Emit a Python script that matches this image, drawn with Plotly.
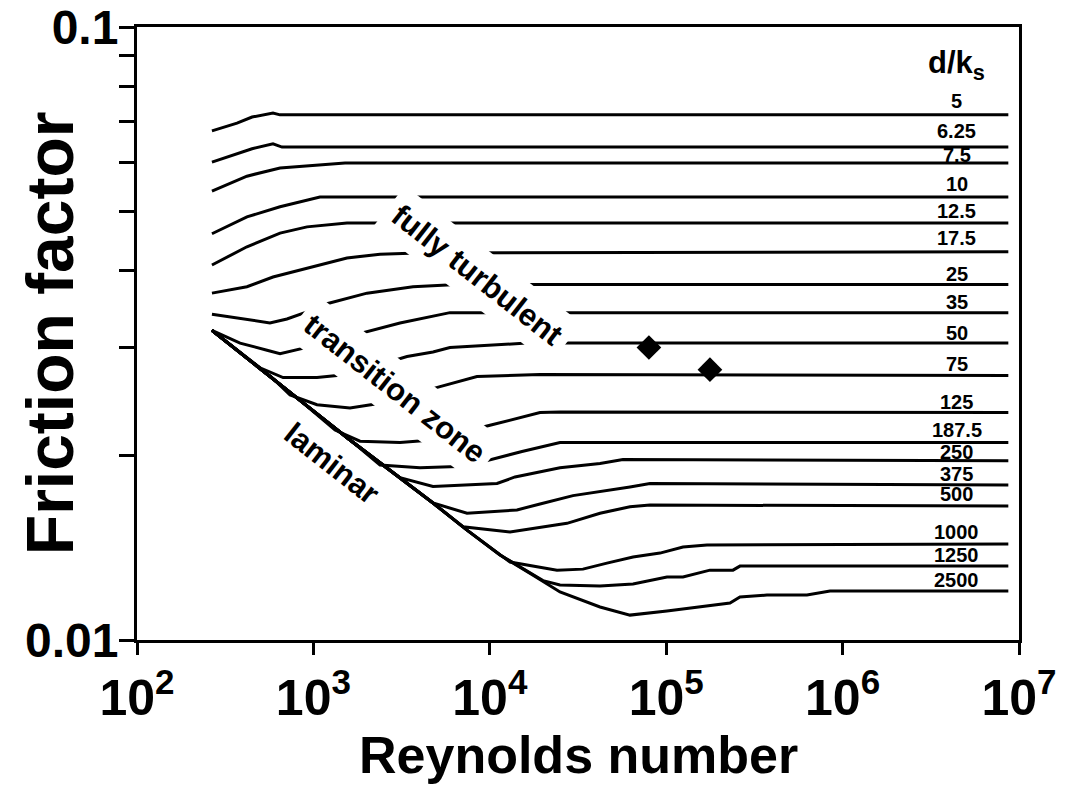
import numpy as np
import plotly.graph_objects as go

# ---------------- data ----------------
re_5 = [266, 369, 449, 590, 647, 8.7e6]
f_5 = [0.0677, 0.0697, 0.0713, 0.0724, 0.0719, 0.0719]

re_6_25 = [266, 369, 449, 590, 664, 8.7e6]
f_6_25 = [0.0602, 0.0621, 0.0633, 0.0645, 0.0637, 0.0637]

re_7_5 = [266, 420, 647, 1089, 1511, 8.7e6]
f_7_5 = [0.0540, 0.0571, 0.0589, 0.0596, 0.0600, 0.0600]

re_10 = [266, 420, 647, 1089, 8.7e6]
f_10 = [0.0460, 0.0490, 0.0509, 0.0528, 0.0528]

re_12_5 = [266, 420, 647, 920, 1550, 8.7e6]
f_12_5 = [0.0409, 0.0438, 0.0461, 0.0472, 0.0479, 0.0479]

re_17_5 = [266, 420, 590, 995, 1550, 2386, 3900, 8.7e6]
f_17_5 = [0.0368, 0.0377, 0.0391, 0.0406, 0.0420, 0.0426, 0.0428, 0.0430]

re_25 = [266, 384, 567, 708, 920, 1164, 2013, 3670, 6515, 8.7e6]
f_25 = [0.0340, 0.0335, 0.0329, 0.0334, 0.0343, 0.0353, 0.0368, 0.0377, 0.0380, 0.0380]

re_35 = [266, 384, 546, 647, 957, 2094, 3097, 5943, 8.7e6]
f_35 = [0.0320, 0.0305, 0.0297, 0.0293, 0.0301, 0.0319, 0.0329, 0.0342, 0.0342]

re_50 = [266, 384, 498, 673, 1048, 1550, 3394, 4764, 5943, 16250, 8.7e6]
f_50 = [0.0320, 0.0295, 0.0278, 0.0268, 0.0268, 0.0271, 0.0290, 0.0295, 0.0300, 0.0305, 0.0305]

re_75 = [266, 437, 583, 737, 1048, 1612, 2449, 5220, 8458, 19260, 8.7e6]
f_75 = [0.0320, 0.0286, 0.0268, 0.0251, 0.0242, 0.0239, 0.02435, 0.0259, 0.0269, 0.0271, 0.0270]

re_125 = [266, 437, 840, 1326, 1837, 3097, 4700, 10020, 19260, 25000, 8.7e6]
f_125 = [0.0320, 0.0286, 0.0246, 0.0220, 0.0211, 0.0210, 0.0212, 0.0224, 0.0235, 0.02355, 0.0235]

re_187_5 = [266, 437, 840, 1612, 2386, 4021, 7228, 15220, 25000, 8.7e6]
f_187_5 = [0.0320, 0.0286, 0.0246, 0.0212, 0.0193, 0.0191, 0.0192, 0.0203, 0.0210, 0.0210]

re_250 = [266, 437, 840, 1612, 3097, 4764, 10990, 13900, 25000, 42150, 56880, 8.7e6]
f_250 = [0.0320, 0.0286, 0.0246, 0.0212, 0.0184, 0.0178, 0.0180, 0.01845, 0.0191, 0.0194, 0.0197, 0.0196]

re_375 = [266, 437, 840, 1612, 3097, 4764, 7427, 14260, 19260, 29620, 62340, 80910, 8.7e6]
f_375 = [0.0320, 0.0286, 0.0246, 0.0212, 0.0184, 0.01673, 0.0161, 0.0163, 0.01667, 0.0172, 0.01777, 0.0180, 0.0179]

re_500 = [266, 437, 840, 1612, 3097, 4764, 7047, 13020, 27390, 42150, 62340, 80910, 8.7e6]
f_500 = [0.0320, 0.0286, 0.0246, 0.0212, 0.0184, 0.01673, 0.0153, 0.0150, 0.0155, 0.0161, 0.0165, 0.0166, 0.01654]

re_1000 = [266, 437, 840, 1612, 3097, 4764, 7427, 13020, 24040, 33740, 46150, 64850, 92230, 124500, 170200, 8.7e6]
f_1000 = [0.0320, 0.0286, 0.0246, 0.0212, 0.0184, 0.01673, 0.01511, 0.0134, 0.0130, 0.01305, 0.01335, 0.01366, 0.01386, 0.01418, 0.01429, 0.01434]

re_1250 = [266, 437, 840, 1612, 3097, 4764, 7427, 11430, 20030, 25000, 42150, 64850, 101000, 124500, 177000, 239100, 261900, 8.7e6]
f_1250 = [0.0320, 0.0286, 0.0246, 0.0212, 0.0184, 0.01673, 0.01511, 0.01376, 0.0125, 0.0123, 0.01225, 0.01234, 0.01267, 0.01267, 0.0130, 0.0130, 0.0132, 0.0132]

re_2500 = [266, 437, 840, 1612, 3097, 4764, 7427, 11430, 17580, 25000, 42150, 62340, 101000, 155300, 230000, 261900, 372400, 628000, 848600, 8.7e6]
f_2500 = [0.0320, 0.0286, 0.0246, 0.0212, 0.0184, 0.01673, 0.01511, 0.01376, 0.01276, 0.01198, 0.01132, 0.01098, 0.01115, 0.01132, 0.01149, 0.01175, 0.01184, 0.01184, 0.01202, 0.01202]

curve_labels = ["5", "6.25", "7.5", "10", "12.5", "17.5", "25", "35", "50", "75",
                "125", "187.5", "250", "375", "500", "1000", "1250", "2500"]
curve_re = [re_5, re_6_25, re_7_5, re_10, re_12_5, re_17_5, re_25, re_35, re_50, re_75,
            re_125, re_187_5, re_250, re_375, re_500, re_1000, re_1250, re_2500]
curve_f = [f_5, f_6_25, f_7_5, f_10, f_12_5, f_17_5, f_25, f_35, f_50, f_75,
           f_125, f_187_5, f_250, f_375, f_500, f_1000, f_1250, f_2500]

# label positions of d/ks values (right side)
label_re = 4.45e6
label_f = [0.0757, 0.0677, 0.0618, 0.05545, 0.0501, 0.04527, 0.03955, 0.03559, 0.03168,
           0.02820, 0.02445, 0.02202, 0.02026, 0.01866, 0.01730, 0.01501, 0.01376, 0.01253]
header_f = 0.0867

# measured points (diamonds)
pts_re = [79800, 177000]
pts_f = [0.0300, 0.0276]

# region labels
region_text = ["fully turbulent", "transition zone", "laminar"]
region_re = [8570, 2901, 1275]
region_f = [0.03938, 0.02576, 0.01944]

x_tickvals = [1e2, 1e3, 1e4, 1e5, 1e6, 1e7]
x_ticktext = ["10<sup>2</sup>", "10<sup>3</sup>", "10<sup>4</sup>",
              "10<sup>5</sup>", "10<sup>6</sup>", "10<sup>7</sup>"]
y_tickvals = [0.01, 0.1]
y_ticktext = ["0.01", "0.1"]
y_minor_vals = [0.02, 0.03, 0.04, 0.05, 0.06, 0.07, 0.08, 0.09]

FONT = "Liberation Sans, Arial, Helvetica, sans-serif"

fig = go.Figure()
for lab, xs, ys in zip(curve_labels, curve_re, curve_f):
    fig.add_trace(go.Scatter(x=xs, y=ys, mode="lines", name=lab,
                             line=dict(color="black", width=3), showlegend=False,
                             hoverinfo="skip"))

fig.add_trace(go.Scatter(x=pts_re, y=pts_f, mode="markers", showlegend=False,
                         marker=dict(symbol="diamond", size=19, color="black")))

ann = []
for t, xr, yf in zip(region_text, region_re, region_f):
    ann.append(dict(x=np.log10(xr), y=np.log10(yf), xref="x", yref="y", text=t,
                    showarrow=False, textangle=38, bgcolor="white", borderpad=8,
                    font=dict(family=FONT, size=31, color="black", weight="bold")))
for t, yf in zip(curve_labels, label_f):
    ann.append(dict(x=np.log10(label_re), y=np.log10(yf), xref="x", yref="y", text=t,
                    showarrow=False,
                    font=dict(family=FONT, size=20, color="black", weight="bold")))
ann.append(dict(x=np.log10(label_re), y=np.log10(header_f), xref="x", yref="y",
                text="d/k<sub>s</sub>", showarrow=False,
                font=dict(family=FONT, size=31, color="black", weight="bold")))
ann.append(dict(x=0.5, y=-0.188, xref="paper", yref="paper", text="Reynolds number",
                showarrow=False, yanchor="middle",
                font=dict(family=FONT, size=52, color="black", weight="bold")))
ann.append(dict(x=-0.099, y=0.5, xref="paper", yref="paper", text="Friction factor",
                showarrow=False, textangle=-90, xanchor="center", yanchor="middle",
                font=dict(family=FONT, size=66, color="black", weight="bold")))

fig.update_layout(
    width=1079, height=785,
    margin=dict(l=137, r=60, t=27, b=145),
    paper_bgcolor="white", plot_bgcolor="white",
    annotations=ann,
    font=dict(family=FONT, color="black"),
)
fig.update_xaxes(type="log", range=[2, 7], showgrid=False, zeroline=False,
                 automargin=False,
                 showline=True, linecolor="black", linewidth=3, mirror=True,
                 ticks="outside", ticklen=12, tickwidth=3, tickcolor="black",
                 tickvals=x_tickvals, ticktext=x_ticktext,
                 tickfont=dict(family=FONT, size=50, color="black", weight="bold"))
fig.update_yaxes(type="log", range=[-2, -1], showgrid=False, zeroline=False,
                 automargin=False, ticklabelstandoff=-9,
                 showline=True, linecolor="black", linewidth=3, mirror=True,
                 ticks="outside", ticklen=15, tickwidth=3, tickcolor="black",
                 tickvals=y_tickvals, ticktext=y_ticktext,
                 minor=dict(tickmode="array", tickvals=y_minor_vals, ticks="outside",
                            ticklen=15, tickwidth=3, tickcolor="black", showgrid=False),
                 tickfont=dict(family=FONT, size=48, color="black", weight="bold"))

fig.write_html("out.html")
